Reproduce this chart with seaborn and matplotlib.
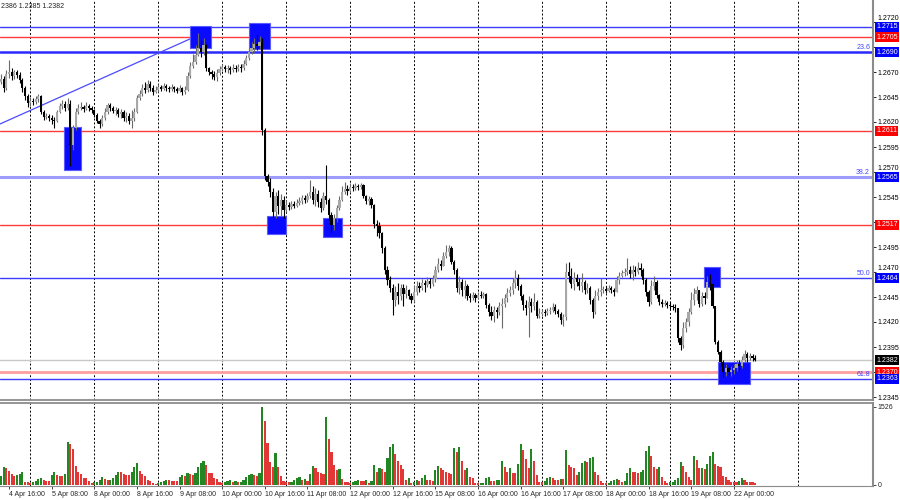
import numpy as np
import pandas as pd
import matplotlib
matplotlib.use("Agg")
import matplotlib.pyplot as plt
import matplotlib.transforms as mtransforms
from matplotlib.patches import Rectangle
import seaborn as sns

# ---------------- data ----------------
start_index = -4          # bar index of the first candle (0 = 4 Apr 16:00)
first_open = 1.2662

close = [
    1.2660, 1.2663, 1.2654, 1.2668, 1.2670, 1.2666, 1.2670, 1.2667, 1.2662, 1.2654, 1.2646, 1.2639, 1.2641,
    1.2640, 1.2643, 1.2646, 1.2630, 1.2625, 1.2626, 1.2624, 1.2622, 1.2621, 1.2630, 1.2636, 1.2638, 1.2634, 1.2638,
    1.2597, 1.2614, 1.2630, 1.2634, 1.2635, 1.2633, 1.2636, 1.2634, 1.2632, 1.2627, 1.2621, 1.2618, 1.2624, 1.2630,
    1.2637, 1.2634, 1.2631, 1.2632, 1.2628, 1.2630, 1.2624, 1.2626, 1.2621, 1.2624, 1.2630, 1.2644, 1.2648, 1.2654, 1.2652, 1.2658,
    1.2654, 1.2650, 1.2652, 1.2655, 1.2653, 1.2656, 1.2654, 1.2653, 1.2655, 1.2653, 1.2651, 1.2654, 1.2650, 1.2652,
    1.2666, 1.2676, 1.2680, 1.2687, 1.2694, 1.2690, 1.2697, 1.2674, 1.2670, 1.2668, 1.2665, 1.2669,
    1.2673, 1.2675, 1.2673, 1.2674, 1.2672, 1.2674, 1.2673, 1.2675, 1.2674, 1.2678, 1.2684, 1.2690, 1.2694, 1.2698, 1.2696, 1.2700,
    1.2612, 1.2566, 1.2560, 1.2550, 1.2530, 1.2546, 1.2536, 1.2542, 1.2532,
    1.2537, 1.2535, 1.2538, 1.2536, 1.2539, 1.2541, 1.2544, 1.2542, 1.2546, 1.2550, 1.2542, 1.2548, 1.2540, 1.2534, 1.2546,
    1.2542, 1.2527, 1.2517, 1.2524, 1.2534, 1.2542, 1.2550, 1.2553, 1.2551, 1.2555, 1.2554, 1.2556, 1.2555, 1.2557,
    1.2546, 1.2541, 1.2543, 1.2537, 1.2518, 1.2516, 1.2509, 1.2494, 1.2472, 1.2462, 1.2454,
    1.2442, 1.2450, 1.2446, 1.2454, 1.2448, 1.2452, 1.2446, 1.2442, 1.2450, 1.2456, 1.2454, 1.2459, 1.2457, 1.2461, 1.2458, 1.2463,
    1.2472, 1.2478, 1.2476, 1.2486, 1.2490, 1.2494, 1.2480, 1.2472, 1.2454, 1.2460, 1.2452, 1.2456,
    1.2446, 1.2444, 1.2447, 1.2444, 1.2447, 1.2446, 1.2448, 1.2437, 1.2430, 1.2426, 1.2432, 1.2430, 1.2436,
    1.2438, 1.2444, 1.2449, 1.2452, 1.2459, 1.2464, 1.2456, 1.2446, 1.2437, 1.2434, 1.2440, 1.2436, 1.2440, 1.2426,
    1.2428, 1.2430, 1.2429, 1.2431, 1.2432, 1.2435, 1.2431, 1.2428, 1.2422, 1.2425,
    1.2470, 1.2466, 1.2458, 1.2464, 1.2460, 1.2456, 1.2460, 1.2452, 1.2454, 1.2442, 1.2430,
    1.2446, 1.2450, 1.2452, 1.2453, 1.2451, 1.2454, 1.2452, 1.2450, 1.2462, 1.2466, 1.2469, 1.2470, 1.2472, 1.2468,
    1.2472, 1.2470, 1.2474, 1.2472, 1.2462, 1.2450, 1.2440, 1.2456, 1.2460, 1.2447, 1.2440, 1.2438, 1.2439, 1.2437, 1.2436, 1.2435, 1.2434,
    1.2404, 1.2397, 1.2414, 1.2420, 1.2430, 1.2442, 1.2448, 1.2452, 1.2438, 1.2446, 1.2444, 1.2460, 1.2458, 1.2436,
    1.2400, 1.2390, 1.2380, 1.2370, 1.2374, 1.2370, 1.2372, 1.2374, 1.2378, 1.2376, 1.2382, 1.2388, 1.2384, 1.2386, 1.2384, 1.2382,
]

high = [
    1.2666, 1.2668, 1.2666, 1.2672, 1.2682, 1.2674, 1.2672, 1.2672, 1.2670, 1.2664, 1.2656, 1.2648, 1.2645,
    1.2644, 1.2646, 1.2648, 1.2647, 1.2632, 1.2629, 1.2628, 1.2627, 1.2625, 1.2632, 1.2639, 1.2642, 1.2641, 1.2644,
    1.2642, 1.2617, 1.2634, 1.2638, 1.2640, 1.2637, 1.2640, 1.2638, 1.2636, 1.2633, 1.2629, 1.2623, 1.2627, 1.2634,
    1.2639, 1.2639, 1.2636, 1.2635, 1.2634, 1.2633, 1.2632, 1.2630, 1.2629, 1.2632, 1.2634, 1.2647, 1.2652, 1.2658, 1.2660, 1.2662,
    1.2661, 1.2657, 1.2656, 1.2658, 1.2657, 1.2659, 1.2658, 1.2656, 1.2658, 1.2656, 1.2655, 1.2657, 1.2655, 1.2656,
    1.2670, 1.2680, 1.2688, 1.2697, 1.2709, 1.2702, 1.2704, 1.2698, 1.2675, 1.2672, 1.2671, 1.2673,
    1.2676, 1.2678, 1.2677, 1.2677, 1.2676, 1.2678, 1.2677, 1.2678, 1.2678, 1.2682, 1.2687, 1.2694, 1.2700, 1.2704, 1.2707, 1.2706,
    1.2704, 1.2614, 1.2568, 1.2564, 1.2554, 1.2550, 1.2552, 1.2548, 1.2546,
    1.2542, 1.2540, 1.2541, 1.2541, 1.2543, 1.2545, 1.2547, 1.2547, 1.2549, 1.2562, 1.2556, 1.2554, 1.2552, 1.2544, 1.2550,
    1.2577, 1.2544, 1.2530, 1.2528, 1.2537, 1.2546, 1.2556, 1.2560, 1.2557, 1.2559, 1.2558, 1.2559, 1.2558, 1.2559,
    1.2558, 1.2547, 1.2546, 1.2545, 1.2538, 1.2522, 1.2520, 1.2510, 1.2496, 1.2476, 1.2466,
    1.2458, 1.2456, 1.2459, 1.2458, 1.2458, 1.2457, 1.2453, 1.2449, 1.2457, 1.2461, 1.2460, 1.2463, 1.2462, 1.2465, 1.2464, 1.2467,
    1.2476, 1.2484, 1.2482, 1.2490, 1.2497, 1.2497, 1.2496, 1.2482, 1.2474, 1.2466, 1.2463, 1.2462,
    1.2458, 1.2449, 1.2450, 1.2449, 1.2450, 1.2451, 1.2450, 1.2449, 1.2439, 1.2436, 1.2436, 1.2435, 1.2440,
    1.2444, 1.2448, 1.2454, 1.2456, 1.2464, 1.2472, 1.2468, 1.2458, 1.2448, 1.2442, 1.2446, 1.2444, 1.2449, 1.2442,
    1.2434, 1.2433, 1.2433, 1.2434, 1.2435, 1.2439, 1.2438, 1.2433, 1.2430, 1.2428,
    1.2479, 1.2480, 1.2474, 1.2470, 1.2468, 1.2464, 1.2469, 1.2462, 1.2459, 1.2456, 1.2444,
    1.2452, 1.2454, 1.2464, 1.2456, 1.2456, 1.2457, 1.2456, 1.2454, 1.2466, 1.2470, 1.2472, 1.2474, 1.2484, 1.2476,
    1.2477, 1.2476, 1.2480, 1.2479, 1.2474, 1.2464, 1.2452, 1.2462, 1.2466, 1.2462, 1.2448, 1.2443, 1.2442, 1.2441, 1.2440, 1.2438, 1.2438,
    1.2434, 1.2406, 1.2420, 1.2424, 1.2434, 1.2450, 1.2454, 1.2456, 1.2452, 1.2450, 1.2450, 1.2466, 1.2468, 1.2458,
    1.2436, 1.2402, 1.2392, 1.2382, 1.2378, 1.2376, 1.2376, 1.2378, 1.2382, 1.2382, 1.2386, 1.2392, 1.2390, 1.2389, 1.2388, 1.2387,
]

low = [
    1.2656, 1.2658, 1.2650, 1.2652, 1.2664, 1.2662, 1.2663, 1.2664, 1.2659, 1.2650, 1.2642, 1.2635, 1.2636,
    1.2637, 1.2638, 1.2640, 1.2628, 1.2622, 1.2623, 1.2621, 1.2618, 1.2614, 1.2620, 1.2629, 1.2633, 1.2631, 1.2632,
    1.2576, 1.2592, 1.2612, 1.2628, 1.2632, 1.2630, 1.2632, 1.2631, 1.2629, 1.2625, 1.2619, 1.2614, 1.2616, 1.2622,
    1.2628, 1.2631, 1.2629, 1.2627, 1.2625, 1.2624, 1.2621, 1.2620, 1.2618, 1.2614, 1.2621, 1.2629, 1.2642, 1.2646, 1.2649, 1.2650,
    1.2651, 1.2647, 1.2649, 1.2650, 1.2651, 1.2652, 1.2651, 1.2650, 1.2651, 1.2650, 1.2649, 1.2650, 1.2647, 1.2648,
    1.2651, 1.2664, 1.2674, 1.2678, 1.2686, 1.2685, 1.2687, 1.2671, 1.2667, 1.2663, 1.2662, 1.2661,
    1.2667, 1.2671, 1.2670, 1.2669, 1.2668, 1.2670, 1.2670, 1.2671, 1.2670, 1.2672, 1.2677, 1.2682, 1.2688, 1.2690, 1.2692, 1.2693,
    1.2607, 1.2562, 1.2556, 1.2545, 1.2525, 1.2524, 1.2528, 1.2526, 1.2524,
    1.2530, 1.2532, 1.2533, 1.2534, 1.2535, 1.2537, 1.2538, 1.2539, 1.2540, 1.2544, 1.2538, 1.2536, 1.2535, 1.2530, 1.2532,
    1.2538, 1.2522, 1.2510, 1.2512, 1.2520, 1.2532, 1.2541, 1.2548, 1.2547, 1.2550, 1.2551, 1.2552, 1.2552, 1.2553,
    1.2544, 1.2538, 1.2537, 1.2534, 1.2514, 1.2506, 1.2504, 1.2489, 1.2468, 1.2457, 1.2450,
    1.2427, 1.2436, 1.2438, 1.2442, 1.2436, 1.2444, 1.2443, 1.2439, 1.2440, 1.2447, 1.2450, 1.2452, 1.2450, 1.2455, 1.2454, 1.2456,
    1.2460, 1.2470, 1.2472, 1.2476, 1.2484, 1.2486, 1.2478, 1.2468, 1.2450, 1.2448, 1.2446, 1.2444,
    1.2442, 1.2440, 1.2442, 1.2440, 1.2443, 1.2444, 1.2444, 1.2434, 1.2426, 1.2422, 1.2420, 1.2424, 1.2427,
    1.2414, 1.2435, 1.2440, 1.2446, 1.2448, 1.2454, 1.2452, 1.2442, 1.2432, 1.2427, 1.2405, 1.2430, 1.2432, 1.2424,
    1.2424, 1.2426, 1.2426, 1.2427, 1.2428, 1.2430, 1.2428, 1.2425, 1.2418, 1.2416,
    1.2422, 1.2460, 1.2454, 1.2452, 1.2456, 1.2452, 1.2450, 1.2448, 1.2449, 1.2438, 1.2424,
    1.2428, 1.2442, 1.2446, 1.2449, 1.2449, 1.2450, 1.2449, 1.2446, 1.2450, 1.2458, 1.2465, 1.2466, 1.2467, 1.2464,
    1.2462, 1.2466, 1.2468, 1.2466, 1.2458, 1.2446, 1.2436, 1.2438, 1.2452, 1.2444, 1.2437, 1.2435, 1.2436, 1.2434, 1.2433, 1.2432, 1.2430,
    1.2400, 1.2392, 1.2394, 1.2410, 1.2416, 1.2428, 1.2437, 1.2442, 1.2435, 1.2436, 1.2438, 1.2444, 1.2452, 1.2434,
    1.2398, 1.2388, 1.2376, 1.2365, 1.2366, 1.2367, 1.2366, 1.2368, 1.2371, 1.2372, 1.2374, 1.2380, 1.2380, 1.2382, 1.2381, 1.2381,
]

volume = [
    160, 170, 360, 340, 270, 220, 175, 195, 215, 250, 65, 60, 45,
    55, 80, 120, 130, 95, 85, 75, 200, 245, 195,
    180, 180, 210, 840, 800, 700, 370, 245, 220, 145,
    130, 75, 30, 50, 55, 100, 150, 120, 100, 105,
    130, 195, 260, 260, 215, 205, 195, 245, 360, 425,
    280, 215, 180, 100, 80, 45, 15, 35, 55, 80,
    100, 95, 85, 80, 80, 160, 200, 175, 240, 210,
    195, 230, 360, 425, 475, 385, 230, 225, 130, 110,
    50, 30, 55, 80, 95, 65, 75, 55, 65, 100,
    150, 195, 210, 195, 185, 240, 1526, 1250, 816, 457,
    359, 620, 359, 176, 78, 65, 52, 65, 100, 145,
    160, 100, 110, 78, 215, 372, 325, 245, 230, 209,
    1330, 900, 640, 390, 290, 310, 120, 52, 52, 33,
    52, 78, 98, 78, 78, 98, 33, 78, 390, 250,
    325, 310, 260, 535, 750, 800, 600, 460, 390, 310,
    100, 145, 33, 52, 100, 78, 145, 195, 100, 100,
    85, 295, 372, 325, 295, 260, 230, 215, 720, 640,
    740, 460, 295, 340, 165, 130, 45, 30, 35, 40,
    130, 150, 85, 85, 90, 100, 470, 360, 250, 340,
    230, 230, 410, 800, 680, 510, 340, 700, 460, 200,
    65, 55, 80, 140, 165, 130, 95, 90, 120, 120,
    680, 385, 355, 340, 200, 245, 425, 460, 440, 530,
    540, 260, 200, 80, 40, 30, 45, 80, 100, 110,
    90, 65, 75, 240, 340, 250, 250, 225, 260, 295,
    670, 760, 560, 360, 310, 350, 150, 80, 35, 50,
    55, 100, 145, 440, 380, 250, 165, 100, 560, 480,
    330, 340, 310, 410, 560, 640, 420, 380, 360, 180,
    160, 100, 55, 55, 55, 70, 130, 100, 65, 55,
    55, 35,
]

time_labels = ["4 Apr 16:00", "5 Apr 08:00", "8 Apr 00:00", "8 Apr 16:00", "9 Apr 08:00",
               "10 Apr 00:00", "10 Apr 16:00", "11 Apr 08:00", "12 Apr 00:00", "12 Apr 16:00",
               "15 Apr 08:00", "16 Apr 00:00", "16 Apr 16:00", "17 Apr 08:00", "18 Apr 00:00",
               "18 Apr 16:00", "19 Apr 08:00", "22 Apr 00:00"]
time_label_bars = [0, 16, 32, 48, 64, 80, 96, 112, 128, 144, 160, 176, 192, 208, 224, 240, 256, 272]
day_separator_bars = [8, 32, 56, 80, 104, 128, 152, 176, 200, 224, 248, 272, 296]

price_ticks = [1.2345, 1.2370, 1.2395, 1.2420, 1.2445, 1.2470, 1.2495, 1.2520, 1.2545,
               1.2570, 1.2595, 1.2620, 1.2645, 1.2670, 1.2695, 1.2720]
# tick labels hidden in the reference behind the level boxes
hidden_tick_labels = [1.2370, 1.2520, 1.2695]
# tick labels that peek out just above a level box
raised_tick_labels = [1.2720, 1.2570, 1.2470]

level_prices = [1.2715, 1.2705, 1.2690, 1.2611, 1.2565, 1.2517, 1.2464, 1.2382, 1.2370, 1.2363]
level_texts = ["1.2715", "1.2705", "1.2690", "1.2611", "1.2565", "1.2517", "1.2464", "1.2382", "1.2370", "1.2363"]

fib_texts = ["23.6", "38.2", "50.0", "61.8"]
fib_prices = [1.2690, 1.2565, 1.2464, 1.2363]

trend_bars = [-3.4, 68.7]
trend_prices = [1.2618, 1.2704]

box_left = [20.6, 67.9, 90.1, 96.8, 117.8, 260.8, 266.0]
box_right = [27.0, 75.8, 97.9, 103.9, 125.0, 266.8, 278.0]
box_top = [1.2615, 1.2716, 1.2719, 1.2526, 1.2524, 1.2475, 1.2380]
box_bottom = [1.2572, 1.2694, 1.2693, 1.2508, 1.2505, 1.2455, 1.2358]

vol_ticks = [0, 1526]
header_text = "2386 1.2385 1.2382"

# ---------------- styling ----------------
sns.set_style("white")
plt.rcParams['font.family'] = ['Liberation Sans', 'DejaVu Sans']

W, H = 900, 500
RIGHT_PX = 873
fig = plt.figure(figsize=(9, 5), dpi=100)
ax = fig.add_axes([0, 1 - 400 / H, RIGHT_PX / W, 400 / H])
axv = fig.add_axes([0, 1 - 486 / H, RIGHT_PX / W, 83 / H])

n = len(close)
idx = np.arange(n) + start_index
c = np.array(close)
o = np.concatenate([[first_open], c[:-1]])
h = np.maximum(np.array(high), np.maximum(o, c))
l = np.minimum(np.array(low), np.minimum(o, c))
bull = c >= o

XMIN, XMAX = -3.38, 324.2

# day separators
for a in (ax, axv):
    for s in day_separator_bars:
        a.axvline(s, color='black', lw=0.7, ls=(0, (2, 2)), zorder=0.5)

# horizontal levels
level_colors = ['#3c3cff', '#ff3c3c', '#2a2aff', '#ff3c3c', '#9c9cff', '#ff3c3c', '#3c3cff', '#c8c8c8', '#ff9f9f', '#3c3cff']
level_lws = [1.0, 1.0, 1.8, 1.0, 2.2, 1.0, 1.0, 1.0, 2.0, 1.0]
for p, col, lw in zip(level_prices, level_colors, level_lws):
    ax.axhline(p, color=col, lw=lw, zorder=1)

# blue boxes
for x0, x1, t, b in zip(box_left, box_right, box_top, box_bottom):
    ax.add_patch(Rectangle((x0, b), x1 - x0, t - b, facecolor='#0a0aff', edgecolor='#5a5aff',
                           lw=0.8, zorder=2))

# trend line
ax.plot(trend_bars, trend_prices, color='#4a4aff', lw=0.9, zorder=1.5)

# candles
wick_cols = np.where(bull, '#6a6a6a', '#000000')
body_cols = np.where(bull, '#a8a8a8', '#000000')
ax.vlines(idx, l, h, colors=wick_cols, lw=0.8, zorder=3)
body_bottom = np.minimum(o, c)
body_h = np.maximum(np.abs(c - o), 0.00007)
ax.bar(idx, body_h, bottom=body_bottom, width=0.85, color=body_cols, linewidth=0, zorder=3.5)

ax.set_xlim(XMIN, XMAX)
ax.set_ylim(1.2342, 1.2742)

# right axis ticks
ax.yaxis.tick_right()
ax.set_yticks(price_ticks)
ax.set_yticklabels(["" if any(abs(p - q) < 1e-6 for q in hidden_tick_labels) else f"{p:.4f}"
                    for p in price_ticks])
ax.tick_params(axis='y', labelsize=5, length=2, width=0.6, pad=1.5, colors='black', right=True)
for p, lab in zip(price_ticks, ax.get_yticklabels()):
    if any(abs(p - q) < 1e-6 for q in raised_tick_labels):
        lab.set_va('bottom')
ax.set_xticks([])
for sp in ['left', 'top']:
    ax.spines[sp].set_visible(False)
ax.spines['right'].set_color('#8c8c8c')
ax.spines['right'].set_linewidth(1.5)
ax.spines['bottom'].set_color('#8c8c8c')
ax.spines['bottom'].set_linewidth(1.3)

# level price boxes on right axis
box_cols = ['#0000ff', '#ff0000', '#0000ff', '#ff0000', '#0000ff', '#ff0000', '#0000ff', '#000000', '#ff0000', '#0000ff']
trans = mtransforms.blended_transform_factory(ax.transAxes, ax.transData)
for p, t, col in zip(level_prices, level_texts, box_cols):
    ax.text(1 + 3 / RIGHT_PX, p, t, transform=trans, fontsize=5, color='white', va='center', ha='left',
            clip_on=False, zorder=10,
            bbox=dict(boxstyle='square,pad=0.15', fc=col, ec='none'))

# fib labels
for t, p in zip(fib_texts, fib_prices):
    ax.text(870 / RIGHT_PX, p + 0.00008, t, transform=trans, fontsize=5, color='#4444ff',
            va='bottom', ha='right', zorder=6)

# volume panel (seaborn)
vol = np.array(volume)
prev = np.concatenate([[0], vol[:-1]])
vdir = np.where(vol > prev, 'up', 'down')
vdf = pd.DataFrame({'bar': idx, 'vol': vol, 'dir': vdir})
sns.barplot(data=vdf, x='bar', y='vol', hue='dir', palette={'up': '#129612', 'down': '#ff1a1a'},
            native_scale=True, dodge=False, width=0.8, legend=False, errorbar=None,
            linewidth=0, ax=axv, zorder=3)
axv.set_xlim(XMIN, XMAX)
axv.set_ylim(-20, 1604)
axv.set_xlabel('')
axv.set_ylabel('')
axv.yaxis.tick_right()
axv.set_yticks(vol_ticks)
axv.set_yticklabels([str(v) for v in vol_ticks])
axv.tick_params(axis='y', labelsize=5, length=2, width=0.6, pad=1.5, right=True)
axv.set_xticks(time_label_bars)
axv.set_xticklabels(time_labels)
axv.tick_params(axis='x', labelsize=5, length=2, width=0.6, pad=1.5, bottom=True)
for lab in axv.get_xticklabels():
    lab.set_ha('left')
axv.spines['left'].set_visible(False)
axv.spines['right'].set_color('#8c8c8c')
axv.spines['right'].set_linewidth(1.5)
axv.spines['top'].set_color('#8c8c8c')
axv.spines['top'].set_linewidth(1.3)
axv.spines['bottom'].set_color('#8c8c8c')
axv.spines['bottom'].set_linewidth(0.8)

fig.text(1 / W, 1 - 6 / H, header_text, fontsize=5, va='center', ha='left', color='#222222')

fig.savefig("out.png", dpi=100)
